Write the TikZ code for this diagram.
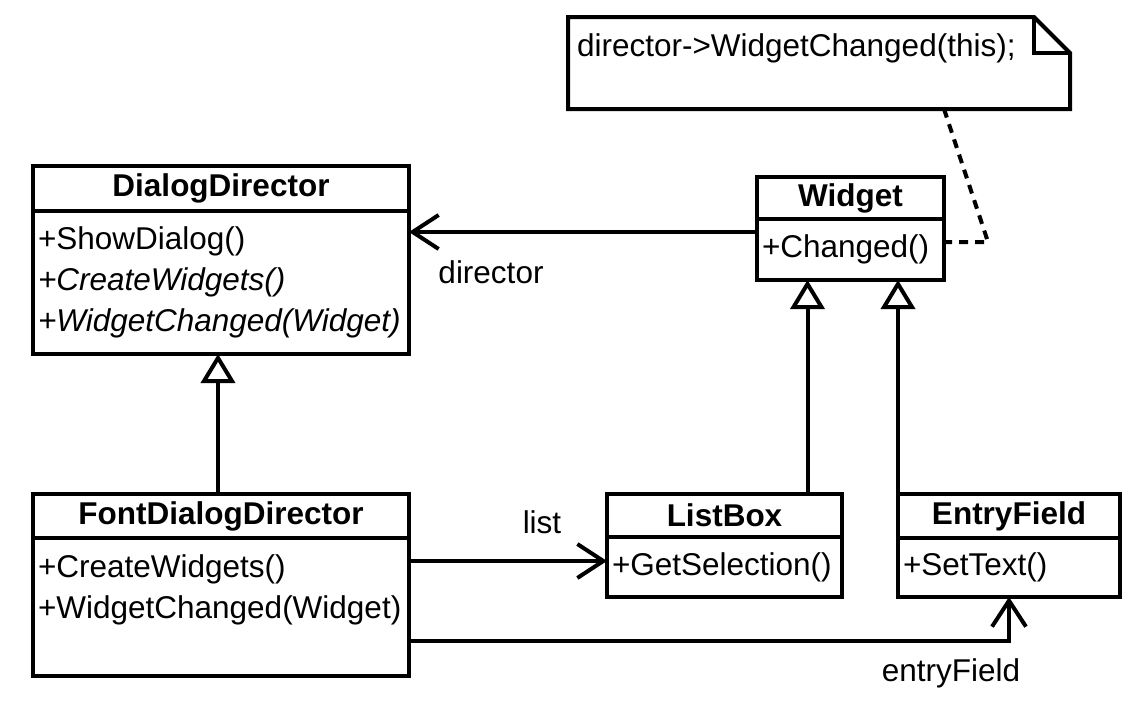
\documentclass[tikz,border=0pt]{standalone}
\usepackage{fontspec}
\setmainfont{Liberation Sans}
\usetikzlibrary{arrows.meta,positioning,calc}

\begin{document}
\begin{tikzpicture}[x=1pt, y=-1pt,
    font=\fontsize{31.5}{41}\selectfont,
    classhead/.style={draw, line width=4pt, outer sep=0pt, anchor=north west, font=\fontsize{31.5}{41}\selectfont\bfseries, inner sep=0pt},
    classbody/.style={draw, line width=4pt, outer sep=0pt, below=0pt of #1, align=left, inner xsep=5pt, inner ysep=0pt},
    assoc/.style={line width=4pt, -{Straight Barb[length=26pt, width=34pt, line width=4pt]}},
    inherit/.style={line width=4pt, -{Triangle[open, length=29pt, width=34pt, line width=4pt]}},
    notelink/.style={line width=4pt, dash pattern=on 9pt off 7pt}]
    \useasboundingbox (0,0) rectangle (1136,707);

    % Mediator classes
    \node[classhead, minimum width=376pt, minimum height=45pt] (dd_head) at (33,166) {DialogDirector};
    \node[classbody=dd_head, text width=366pt, minimum height=143pt] (dd_body) {+ShowDialog()\\\itshape +CreateWidgets()\\\itshape +WidgetChanged(Widget)};
    \node[classhead, minimum width=376pt, minimum height=44pt] (fdd_head) at (33,494) {FontDialogDirector};
    \node[classbody=fdd_head, text width=366pt, minimum height=138pt] (fdd_body) {+CreateWidgets()\\+WidgetChanged(Widget)\\\mbox{}};

    % Colleague classes
    \node[classhead, minimum width=187pt, minimum height=42pt] (widget_head) at (757,177) {Widget};
    \node[classbody=widget_head, text width=177pt, minimum height=61pt] (widget_body) {+Changed()};
    \node[classhead, minimum width=235pt, minimum height=43pt] (list_head) at (607,494) {ListBox};
    \node[classbody=list_head, text width=225pt, minimum height=60pt] (list_body) {+GetSelection()};
    \node[classhead, minimum width=222pt, minimum height=44pt] (entry_head) at (898,494) {EntryField};
    \node[classbody=entry_head, text width=212pt, minimum height=59pt] (entry_body) {+SetText()};

    % Note
    \node[anchor=north west, outer sep=0pt, minimum width=502pt, minimum height=92pt, text width=484pt, inner xsep=9pt, align=left, text depth=35pt] (note) at (568,17) {director->WidgetChanged(this);};
    \draw[line width=4pt] (note.north west) -- ($(note.north east)+(-36,0)$) -- ($(note.north east)+(0,36)$) -- (note.south east) -- (note.south west) -- cycle;
    \draw[line width=4pt] ($(note.north east)+(-36,0)$) -- ($(note.north east)+(-36,36)$) -- ($(note.north east)+(0,36)$);
    \coordinate (note_bend) at (988,242);
    \draw[notelink] ([xshift=125pt]note.south) -- (note_bend) -- (note_bend -| widget_body.east);

    % Associations
    \draw[assoc] ([yshift=-13pt]widget_body.north west) coordinate (dir_start) -- (dir_start -| dd_body.east);
    \node (director_label) at (491,272) {director};
    \draw[assoc] ([yshift=-23pt]fdd_body.north east) coordinate (list_start) -- (list_start -| list_body.west);
    \node (list_label) at (542,522) {list};
    \draw[assoc] ([yshift=-103pt]fdd_body.north east) -| (entry_body.south);
    \node (entry_label) at (951,673) {entryField};

    % Generalizations
    \draw[inherit] (fdd_head.north -| 218,0) -- (dd_body.south -| 218,0);
    \draw[inherit] ([xshift=-43pt]widget_body.south |- list_head.north) -- ([xshift=-43pt]widget_body.south);
    \draw[inherit] (entry_head.north west) -- (entry_head.north west |- widget_body.south);
\end{tikzpicture}
\end{document}
